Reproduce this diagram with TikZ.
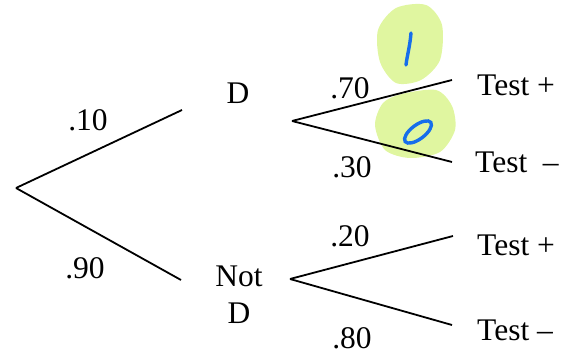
\documentclass[tikz,border=0pt]{standalone}
\usepackage{fontspec}
\setmainfont{Liberation Serif}
\usetikzlibrary{calc}

\definecolor{highlite}{RGB}{224,246,160}
\definecolor{penblue}{RGB}{22,110,235}

\tikzset{
  label/.style={inner sep=0pt,font=\fontsize{31.5}{37}\selectfont},
  branch/.style={line width=1.8pt},
  blob/.style={fill=highlite,draw=none},
  pen/.style={draw=penblue,line width=3.4pt,line cap=round}
}

\begin{document}
\begin{tikzpicture}[x=1pt,y=-1pt]
            \useasboundingbox (0,0) rectangle (576,355);

            % highlighter marks
            \fill[blob] plot[smooth cycle] coordinates {(396,8) (426,5) (442,25) (440,60) (421,80) (396,83) (380,62) (378,30)};
            \fill[blob] plot[smooth cycle] coordinates {(402,94) (436,90) (452,106) (455,130) (440,152) (410,158) (385,150) (375,125) (383,103)};

            % branch points
            \coordinate (root) at (16,188);
            \coordinate (dIn) at (182,110);
            \coordinate (ndIn) at (181,280);
            \coordinate (dOut) at (292,121);
            \coordinate (ndOut) at (290,279);
            \coordinate (dPos) at (452,80);
            \coordinate (dNeg) at (452,162);
            \coordinate (ndPos) at (453,236);
            \coordinate (ndNeg) at (452,325);

            \draw[branch] (root) -- (dIn);
            \draw[branch] (root) -- (ndIn);
            \draw[branch] (dOut) -- (dPos);
            \draw[branch] (dOut) -- (dNeg);
            \draw[branch] (ndOut) -- (ndPos);
            \draw[branch] (ndOut) -- (ndNeg);

            % events
            \node[label] (d) at (238,93) {D};
            \node[label,align=center] (notd) at (239,295) {Not\\D};
            \node[label,anchor=west] (dtp) at (477,85) {Test +};
            \node[label,anchor=west] (dtn) at (475,162) {Test \ –};
            \node[label,anchor=west] (ndtp) at (477,245) {Test +};
            \node[label,anchor=west] (ndtn) at (477,330) {Test –};

            % probabilities
            \node[label] (pd) at (88,120) {.10};
            \node[label] (pnd) at (85,268) {.90};
            \node[label] (p70) at (350,88) {.70};
            \node[label] (p30) at (352,167) {.30};
            \node[label] (p20) at (350,236) {.20};
            \node[label] (p80) at (352,338) {.80};

            % handwritten counts
            \draw[pen] (411,33) .. controls (410,46) and (407,56) .. (406,65);
            \draw[pen] (418,132) ellipse [x radius=16, y radius=7, rotate=37];
        \end{tikzpicture}
\end{document}
